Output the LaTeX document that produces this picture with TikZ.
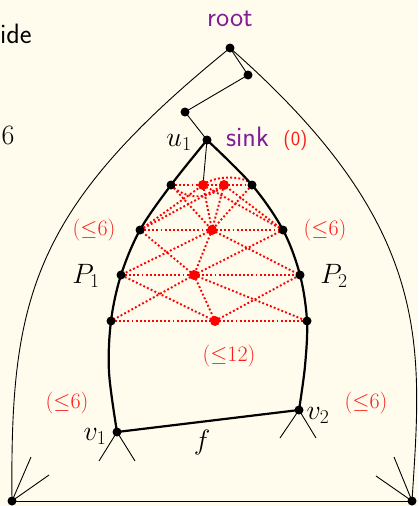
\RequirePackage{fix-cm}
\documentclass[tikz,border=0pt]{standalone}
\definecolor{bg}{RGB}{255,252,238}
\definecolor{vio}{RGB}{130,30,150}
\definecolor{labred}{RGB}{250,30,25}
\tikzset{
  blk/.style={circle,fill=black,inner sep=0pt,minimum size=9pt},
  reddot/.style={circle,fill=red,inner sep=0pt,minimum size=10pt},
  thinln/.style={line width=0.9pt},
  thickln/.style={line width=2.2pt},
  rdot/.style={red,line width=1.9pt,dash pattern=on 1.9pt off 2.2pt},
  mainf/.style={inner sep=0pt,anchor=base,font=\fontsize{28}{32}\selectfont},
  sansf/.style={inner sep=0pt,anchor=base,text=vio,font=\sffamily\fontsize{28}{32}\selectfont},
  redf/.style={inner sep=0pt,anchor=base,text=labred,font=\fontsize{22}{26}\selectfont},
  redsf/.style={inner sep=0pt,anchor=base,text=labred,font=\sffamily\fontsize{20}{24}\selectfont},
}
\begin{document}
\begin{tikzpicture}[x=1pt,y=-1pt]
\useasboundingbox (0,0) rectangle (418,506);
\fill[bg] (0,0) rectangle (418,506);
% coordinates
\coordinate (root) at (230,48);
\coordinate (a) at (248,75);
\coordinate (b) at (185,112);
\coordinate (u1) at (207,140);
\coordinate (L1) at (171,185);
\coordinate (L2) at (140,230);
\coordinate (L3) at (121,275);
\coordinate (L4) at (111,321);
\coordinate (L5) at (109,372);
\coordinate (v1) at (117,432);
\coordinate (R1) at (252,185);
\coordinate (R2) at (283,230);
\coordinate (R3) at (300,275);
\coordinate (R4) at (307,321);
\coordinate (R5) at (305,366);
\coordinate (v2) at (299,410);
\coordinate (r1) at (203,185);
\coordinate (r2) at (224,185);
\coordinate (r3) at (212,230);
\coordinate (r4) at (194,275);
\coordinate (r5) at (215,321);
\coordinate (BL) at (12,501);
\coordinate (BR) at (412,501);
\coordinate (v1a) at (99,461);
\coordinate (v1b) at (135,461);
\coordinate (v2a) at (280,438);
\coordinate (v2b) at (316,438);
\coordinate (BLa) at (31,457);
\coordinate (BLb) at (49,475);
\coordinate (BRa) at (394,457);
\coordinate (BRb) at (376,476);
% red dotted triangulation
\foreach \p/\q in {L1/r1,r1/r2,r2/R1,L2/r3,r3/R2,L3/r4,r4/R3,L4/r5,r5/R4,
  L1/r3,R1/r3,r1/r3,r2/r3,L2/r1,L2/r2,R2/r1,R2/r2,
  r3/L3,r3/R3,r4/L2,r4/R2,r3/r4,r4/L4,r4/R4,r5/L3,r5/R3,r4/r5}
  \draw[rdot] (\p) -- (\q);
\draw[rdot] (r1) .. controls (215,175) and (245,175) .. (R1);
\draw[rdot] (L1) .. controls (185,200) and (210,200) .. (r2);
% outer curves
\draw[thinln] (root) .. controls (30,210) and (10,300) .. (BL);
\draw[thinln] (root) .. controls (435,228) and (422,345) .. (BR);
\draw[thinln] (BL) -- (BR);
\draw[thinln] (BL) -- (BLa);
\draw[thinln] (BL) -- (BLb);
\draw[thinln] (BR) -- (BRa);
\draw[thinln] (BR) -- (BRb);
% tree path
\draw[thinln] (root) -- (a) -- (b) -- (u1) -- (r1);
% pear
\draw[thickln] plot[smooth,tension=0.55] coordinates {(u1) (L1) (L2) (L3) (L4) (L5) (v1)};
\draw[thickln] plot[smooth,tension=0.55] coordinates {(u1) (R1) (R2) (R3) (R4) (R5) (v2)};
\draw[thickln] (v1) -- (v2);
\draw[thinln] (v1) -- (v1a);
\draw[thinln] (v1) -- (v1b);
\draw[thinln] (v2) -- (v2a);
\draw[thinln] (v2) -- (v2b);
% dots
\foreach \n in {root,a,b,u1,L1,L2,L3,L4,R1,R2,R3,R4,v1,v2,BL,BR}
  \node[blk] (d\n) at (\n) {};
\foreach \n in {r1,r2,r3,r4,r5}
  \node[reddot] (d\n) at (\n) {};
% labels
\node[sansf] (troot) at (230,26.5) {root};
\node[sansf] (tsink) at (247.5,146.5) {sink};
\node[redsf] (tzero) at (295.5,145.5) {(0)};
\node[mainf] (tu1) at (179,146.5) {$u_1$};
\node[redf] (tl1) at (94,235) {$(\mathord{\leq}6)$};
\node[redf] (tr1) at (325,235) {$(\mathord{\leq}6)$};
\node[redf] (tmid) at (229,361) {$(\mathord{\leq}12)$};
\node[redf] (tl2) at (67,408) {$(\mathord{\leq}6)$};
\node[redf] (tr2) at (366,408) {$(\mathord{\leq}6)$};
\node[mainf] (tP1) at (86,283) {$P_1$};
\node[mainf] (tP2) at (334,283) {$P_2$};
\node[mainf] (tv1) at (95,440) {$v_1$};
\node[mainf] (tv2) at (318,419) {$v_2$};
\node[mainf] (tf) at (202,449) {$f$};
\node[inner sep=0pt,anchor=base west,font=\sffamily\fontsize{28}{32}\selectfont] (tide) at (0,43.5) {ide};
\node[inner sep=0pt,anchor=base west,font=\fontsize{28}{32}\selectfont] (tsix) at (1.5,144.5) {6};
\end{tikzpicture}
\end{document}
